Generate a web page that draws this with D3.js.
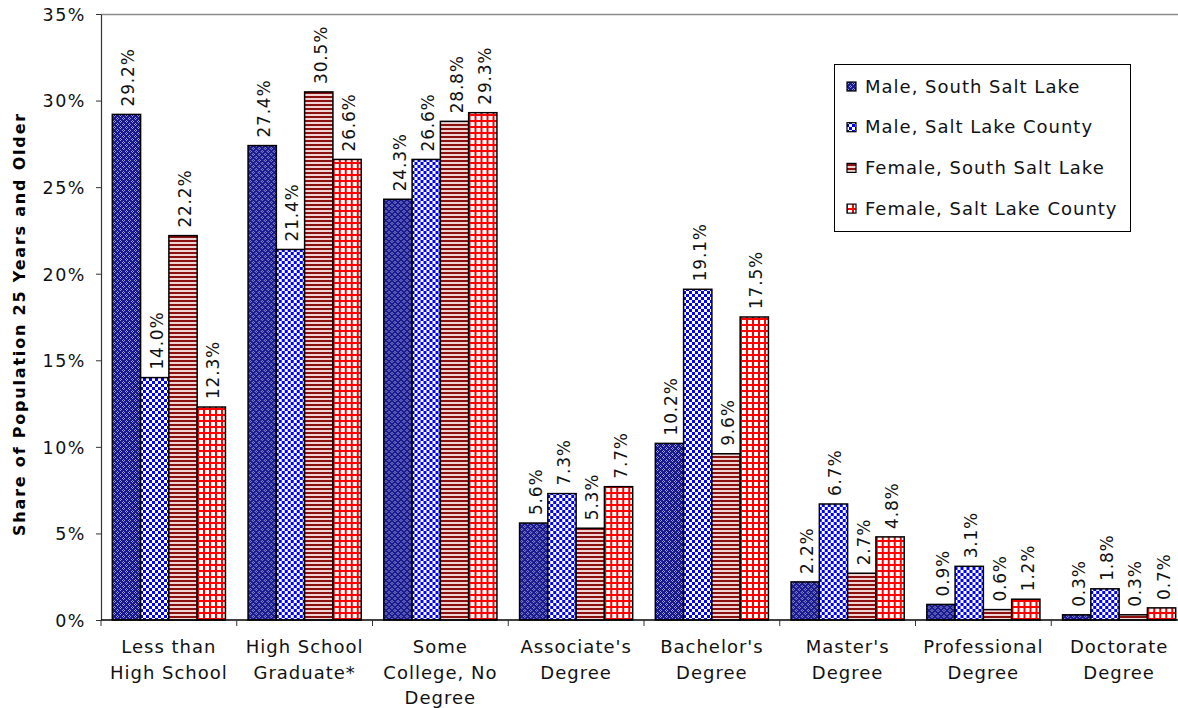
<!DOCTYPE html>
<html>
<head>
<meta charset="utf-8">
<script src="https://cdn.jsdelivr.net/npm/d3@7"></script>
<style>
  html, body { margin: 0; padding: 0; background: #fff; }
  svg { display: block; font-family: Verdana, "DejaVu Sans", sans-serif; }
</style>
</head>
<body>
<svg id="chart" width="1178" height="708"></svg>
<script>
// Educational attainment, population 25 years and older (percent)
const categories = [
  ["Less than", "High School"],
  ["High School", "Graduate*"],
  ["Some", "College, No", "Degree"],
  ["Associate's", "Degree"],
  ["Bachelor's", "Degree"],
  ["Master's", "Degree"],
  ["Professional", "Degree"],
  ["Doctorate", "Degree"]
];
const seriesNames = [
  "Male, South Salt Lake",
  "Male, Salt Lake County",
  "Female, South Salt Lake",
  "Female, Salt Lake County"
];
const maleSouthSaltLake     = [29.2, 27.4, 24.3, 5.6, 10.2, 2.2, 0.9, 0.3];
const maleSaltLakeCounty    = [14.0, 21.4, 26.6, 7.3, 19.1, 6.7, 3.1, 1.8];
const femaleSouthSaltLake   = [22.2, 30.5, 28.8, 5.3, 9.6, 2.7, 0.6, 0.3];
const femaleSaltLakeCounty  = [12.3, 26.6, 29.3, 7.7, 17.5, 4.8, 1.2, 0.7];
const yTicks = [0, 5, 10, 15, 20, 25, 30, 35];
const yTitle = "Share of Population 25 Years and Older";

const seriesValues = [maleSouthSaltLake, maleSaltLakeCounty, femaleSouthSaltLake, femaleSaltLakeCounty];

const svg = d3.select("#chart");
const plotLeft = 101, plotTop = 14, plotBottom = 620, plotRight = 1187;

// Fill patterns for the four series
const defs = svg.append("defs");
function pattern(id, size) {
  return defs.append("pattern").attr("id", id)
    .attr("patternUnits", "userSpaceOnUse").attr("width", size).attr("height", size);
}
// navy trellis
{
  const p = pattern("pMaleSSL", 6);
  p.append("rect").attr("width", 6).attr("height", 6).attr("fill", "#1a1a90");
  const light = "#b4b4e4";
  [[0,1,3,1],[1,0,1,3],[3,4,3,1],[4,3,1,3]].forEach(([x, y0, w, h]) =>
    p.append("rect").attr("x", x).attr("y", y0).attr("width", w).attr("height", h).attr("fill", light).attr("opacity", 0.85));
  p.append("rect").attr("x", 1).attr("y", 1).attr("width", 1).attr("height", 1).attr("fill", "#000070");
  p.append("rect").attr("x", 4).attr("y", 4).attr("width", 1).attr("height", 1).attr("fill", "#000070");
}
// blue checkerboard
{
  const p = pattern("pMaleSLC", 6);
  p.append("rect").attr("width", 6).attr("height", 6).attr("fill", "#ffffff");
  p.append("rect").attr("width", 3).attr("height", 3).attr("fill", "#0000ff");
  p.append("rect").attr("x", 3).attr("y", 3).attr("width", 3).attr("height", 3).attr("fill", "#0000ff");
}
// dark red horizontal stripes
{
  const p = pattern("pFemaleSSL", 4);
  p.append("rect").attr("width", 4).attr("height", 4).attr("fill", "#f0d4d4");
  p.append("rect").attr("width", 4).attr("height", 2).attr("fill", "#8b1010");
}
// red grid
{
  const p = pattern("pFemaleSLC", 6);
  p.append("rect").attr("width", 6).attr("height", 6).attr("fill", "#ffffff");
  p.append("rect").attr("width", 6).attr("height", 2).attr("fill", "#ff0000");
  p.append("rect").attr("width", 2).attr("height", 6).attr("fill", "#ff0000");
}
const fills = ["url(#pMaleSSL)", "url(#pMaleSLC)", "url(#pFemaleSSL)", "url(#pFemaleSLC)"];

const x0 = d3.scaleBand().domain(d3.range(categories.length)).range([plotLeft, plotRight]).paddingInner(0).paddingOuter(0);
const x1 = d3.scaleBand().domain(d3.range(seriesNames.length)).range([0, x0.bandwidth()]).paddingOuter(0.4).paddingInner(0);
const y = d3.scaleLinear().domain([0, 35]).range([plotBottom, plotTop]);

// plot area top border
svg.append("line").attr("x1", plotLeft).attr("x2", 1178).attr("y1", plotTop + 0.5).attr("y2", plotTop + 0.5)
  .attr("stroke", "#8c8c8c").attr("stroke-width", 1.5);

// y axis
const yAxis = svg.append("g").attr("transform", `translate(${plotLeft},0)`)
  .call(d3.axisLeft(y).tickValues(yTicks).tickFormat(d => d + "%").tickSize(5).tickSizeOuter(0));
yAxis.select(".domain").attr("stroke", "#333").attr("stroke-width", 1.2);
yAxis.selectAll(".tick line").attr("stroke", "#333");
yAxis.selectAll(".tick text").attr("font-size", 17.5).attr("letter-spacing", 1.5).attr("fill", "#111")
  .attr("x", -15).attr("dy", "0.36em")
  .attr("font-family", "Verdana, 'DejaVu Sans', sans-serif");

// bars
const groups = svg.append("g").selectAll("g").data(categories).join("g")
  .attr("transform", (d, i) => `translate(${x0(i)},0)`);
groups.each(function(cat, ci) {
  const g = d3.select(this);
  seriesValues.forEach((vals, si) => {
    const v = vals[ci];
    g.append("rect")
      .attr("x", x1(si)).attr("y", y(v))
      .attr("width", x1.bandwidth()).attr("height", y(0) - y(v))
      .attr("fill", fills[si]).attr("stroke", "#000").attr("stroke-width", 1.5);
    const cx = x1(si) + x1.bandwidth() / 2;
    g.append("text")
      .attr("transform", `translate(${cx + 8},${y(v) - 8}) rotate(-90)`)
      .attr("font-size", 17).attr("letter-spacing", 0.8).attr("fill", "#111")
      .text(v.toFixed(1) + "%");
  });
});

// x axis
const xAxis = svg.append("g").attr("transform", `translate(0,${plotBottom})`);
xAxis.append("line").attr("x1", plotLeft).attr("x2", 1178).attr("y1", 0).attr("y2", 0)
  .attr("stroke", "#000").attr("stroke-width", 1.5);
xAxis.selectAll("line.tk").data(d3.range(categories.length + 1)).join("line").attr("class", "tk")
  .attr("x1", i => plotLeft + i * x0.step()).attr("x2", i => plotLeft + i * x0.step())
  .attr("y1", 0).attr("y2", 6).attr("stroke", "#333");
xAxis.selectAll("text.cat").data(categories).join("text").attr("class", "cat")
  .attr("text-anchor", "middle").attr("font-size", 18).attr("letter-spacing", 1).attr("fill", "#111")
  .attr("x", (d, i) => x0(i) + x0.bandwidth() / 2)
  .each(function(lines) {
    const t = d3.select(this);
    lines.forEach((ln, k) => t.append("tspan")
      .attr("x", t.attr("x")).attr("y", 33 + k * 25.7).text(ln));
  });

// y axis title
svg.append("text")
  .attr("transform", `translate(25,${(plotTop + plotBottom) / 2 + 7}) rotate(-90)`)
  .attr("text-anchor", "middle").attr("font-size", 16).attr("letter-spacing", 1.8)
  .attr("font-weight", "bold").attr("fill", "#000")
  .text(yTitle);

// legend
const legend = svg.append("g").attr("transform", "translate(834,64)");
legend.append("rect").attr("x", 0.5).attr("y", 0.5).attr("width", 296).attr("height", 167)
  .attr("fill", "#fff").attr("stroke", "#000").attr("stroke-width", 1);
seriesNames.forEach((name, i) => {
  const ly = 22 + i * 40.7;
  legend.append("rect").attr("x", 13).attr("y", ly - 4).attr("width", 9).attr("height", 9)
    .attr("fill", fills[i]).attr("stroke", "#000").attr("stroke-width", 1.2);
  legend.append("text").attr("x", 31).attr("y", ly + 6.5).attr("font-size", 18).attr("letter-spacing", 1)
    .attr("fill", "#111").text(name);
});
</script>
</body>
</html>
